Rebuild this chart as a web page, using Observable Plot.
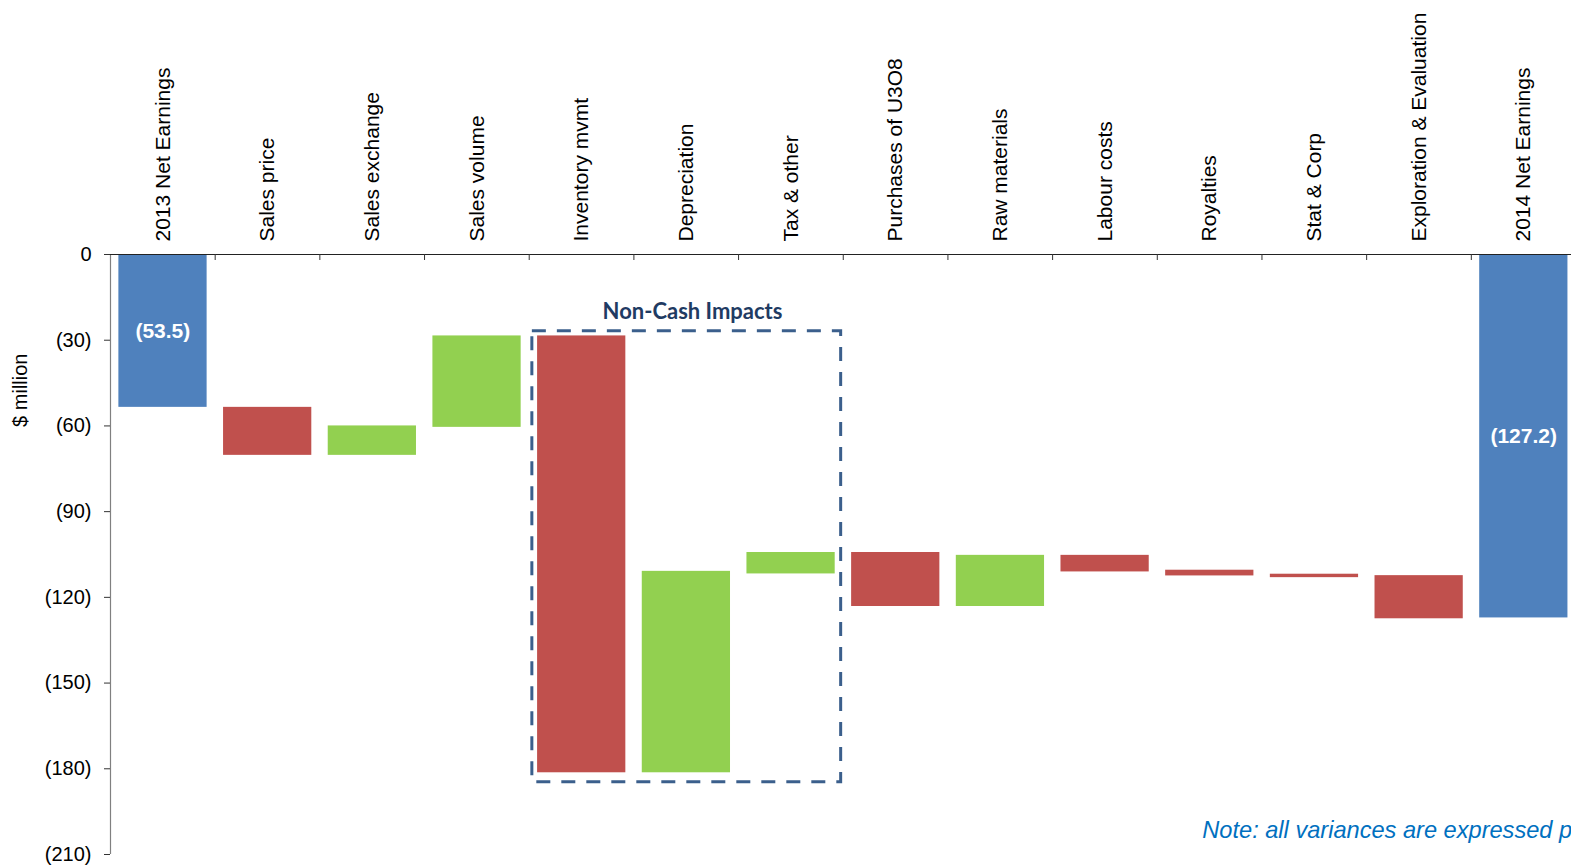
<!DOCTYPE html>
<html><head><meta charset="utf-8">
<script src="https://cdn.jsdelivr.net/npm/d3@7"></script>
<script src="https://cdn.jsdelivr.net/npm/@observablehq/plot@0.6"></script>
<style>html,body{margin:0;padding:0;background:#fff;overflow:hidden}</style>
</head><body><div id="chart"></div>
<script>
const categories = ["2013 Net Earnings","Sales price","Sales exchange","Sales volume","Inventory mvmt","Depreciation","Tax & other","Purchases of U3O8","Raw materials","Labour costs","Royalties","Stat & Corp","Exploration & Evaluation","2014 Net Earnings"];
const starts = [0, -53.5, -70.3, -60.5, -28.5, -181.4, -111.8, -104.3, -123.2, -105.3, -110.5, -111.9, -112.4, 0];
const ends   = [-53.5, -70.3, -60.0, -28.5, -181.4, -110.9, -104.3, -123.2, -105.3, -111.1, -112.5, -113.1, -127.5, -127.2];
const types  = ["total","neg","pos","pos","neg","pos","pos","neg","pos","neg","neg","neg","neg","total"];
const yTicks = [0, -30, -60, -90, -120, -150, -180, -210];
const boxes = [{x1: 4.03, x2: 6.98, y1: -26.9, y2: -184.7, title: "Non-Cash Impacts", tx: 5.56, ty: -20}];
const notes = [{x: 10.43, y: -201.5, text: "Note: all variances are expressed pre-tax"}];
const yLabel = [{y: -47.5, text: "$ million"}];

const rows = categories.map((c, i) => ({i, c, start: starts[i], end: ends[i], type: types[i]}));
const font = "Liberation Sans, Arial, sans-serif";

const chart = Plot.plot({
  width: 1571, height: 866,
  marginTop: 254, marginBottom: 12, marginLeft: 110, marginRight: -4.5,
  x: {domain: [0, 14], axis: null},
  y: {domain: [-210, 0], axis: null},
  color: {domain: ["total", "neg", "pos"], range: ["#4F81BD", "#C0504D", "#92D050"]},
  style: {fontFamily: font, background: "white", overflow: "visible", color: "black"},
  marks: [
    Plot.rect(rows, {x1: d => d.i + 0.08, x2: d => d.i + 0.923, y1: "start", y2: "end", fill: "type"}),
    Plot.ruleX([0], {stroke: "#808080", strokeWidth: 1.2}),
    Plot.ruleY([0], {stroke: "#222", strokeWidth: 1.2}),
    Plot.ruleX(d3.range(1, 14), {y1: 0, y2: -2.1, stroke: "#333"}),
    Plot.axisY({ticks: yTicks, tickFormat: d => d === 0 ? "0" : `(${-d})`, tickSize: 6, tickPadding: 13, fontSize: 20, label: null, stroke: "#333"}),
    Plot.text(rows, {x: d => d.i + 0.5, y: 0, text: "c", rotate: -90, textAnchor: "start", dy: -13, fontSize: 21, fill: "black"}),
    Plot.text(rows.filter(d => d.type === "total"), {x: d => d.i + 0.5, y: d => (d.start + d.end) / 2, text: d => `(${(-d.end).toFixed(1)})`, fill: "white", fontWeight: "bold", fontSize: 21}),
    Plot.rect(boxes, {x1: "x1", x2: "x2", y1: "y1", y2: "y2", fill: "none", stroke: "#3B5F8C", strokeWidth: 3, strokeDasharray: "14,11"}),
    Plot.text(boxes, {x: "tx", y: "ty", text: "title", fontSize: 22, fontWeight: "bold", fill: "#1F3B63", fontFamily: "Lato, Open Sans, sans-serif"}),
    Plot.text(notes, {x: "x", y: "y", text: "text", textAnchor: "start", fontSize: 23.6, fontStyle: "italic", fill: "#0070C0"}),
    Plot.text(yLabel, {frameAnchor: "left", y: "y", text: "text", dx: -90, rotate: -90, textAnchor: "middle", fontSize: 20, fill: "black"})
  ]
});
document.getElementById("chart").appendChild(chart);
</script>
</body></html>
